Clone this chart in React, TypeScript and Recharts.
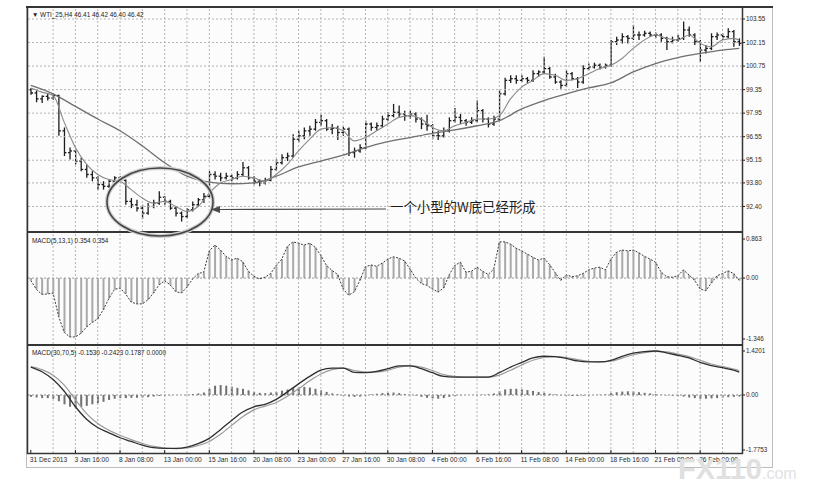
import { ComposedChart, Bar, Line, XAxis, YAxis, ReferenceLine } from 'recharts'

// WTI H4 – one entry per 8 hours (two H4 bars)
// [open, high, low, close]
const CANDLES: [number, number, number, number][] = [
  [99.35, 99.45, 99.05, 99.15], [99.15, 99.3, 98.6, 98.8], [98.8, 99.0, 98.55, 98.95], [98.95, 99.1, 98.7, 98.85],
  [98.85, 99.15, 98.75, 99.0], [99.0, 99.05, 96.6, 96.9], [96.9, 97.1, 95.4, 95.6], [95.6, 95.9, 95.2, 95.7],
  [95.7, 95.8, 94.9, 95.1], [95.1, 95.3, 94.5, 94.6], [94.6, 94.9, 94.1, 94.3], [94.3, 94.5, 93.9, 94.1],
  [94.1, 94.2, 93.4, 93.7], [93.7, 93.9, 93.4, 93.6], [93.6, 94.0, 93.5, 93.9], [93.9, 94.2, 93.8, 94.1],
  [94.1, 94.2, 93.8, 93.95], [93.95, 94.0, 92.5, 92.7], [92.7, 92.9, 92.3, 92.5], [92.5, 92.8, 92.1, 92.3],
  [92.3, 92.5, 91.65, 92.0], [92.0, 92.6, 91.9, 92.4], [92.4, 92.8, 92.3, 92.6], [92.6, 93.3, 92.5, 92.95],
  [92.95, 93.0, 92.5, 92.7], [92.7, 92.8, 92.2, 92.3], [92.3, 92.4, 91.8, 92.0], [92.0, 92.1, 91.5, 91.8],
  [91.8, 92.3, 91.7, 92.2], [92.2, 92.7, 92.1, 92.5], [92.5, 92.9, 92.4, 92.8], [92.8, 93.2, 92.6, 93.0],
  [93.0, 94.5, 92.9, 94.3], [94.3, 94.5, 94.0, 94.2], [94.2, 94.4, 93.9, 94.1], [94.1, 94.4, 94.0, 94.2],
  [94.2, 94.3, 93.9, 94.1], [94.1, 94.5, 94.0, 94.3], [94.3, 95.05, 94.2, 94.7], [94.7, 94.8, 94.0, 94.1],
  [94.1, 94.2, 93.7, 93.9], [93.9, 94.0, 93.6, 93.8], [93.8, 94.1, 93.7, 93.95], [93.95, 94.8, 93.9, 94.6],
  [94.6, 95.2, 94.5, 95.0], [95.0, 95.5, 94.9, 95.3], [95.3, 95.6, 95.1, 95.4], [95.4, 96.7, 95.3, 96.4],
  [96.4, 96.9, 96.2, 96.6], [96.6, 97.1, 96.4, 96.9], [96.9, 97.2, 96.6, 97.0], [97.0, 97.6, 96.9, 97.4],
  [97.4, 97.85, 97.2, 97.5], [97.5, 97.6, 96.9, 97.0], [97.0, 97.3, 96.7, 97.05], [97.05, 97.2, 96.35, 96.8],
  [96.8, 97.15, 96.6, 97.0], [97.0, 97.1, 95.4, 95.6], [95.6, 95.9, 95.3, 95.7], [95.7, 96.1, 95.6, 95.9],
  [95.9, 97.5, 95.8, 97.3], [97.3, 97.4, 96.9, 97.1], [97.1, 97.4, 96.9, 97.2], [97.2, 97.8, 97.1, 97.6],
  [97.6, 98.0, 97.5, 97.8], [97.8, 98.5, 97.7, 98.0], [98.0, 98.4, 97.7, 97.9], [97.9, 98.1, 97.5, 97.8],
  [97.8, 98.1, 97.6, 97.9], [97.9, 98.0, 97.4, 97.6], [97.6, 97.7, 97.0, 97.3], [97.3, 97.85, 96.9, 97.2],
  [97.2, 97.3, 96.4, 96.6], [96.6, 96.9, 96.35, 96.6], [96.6, 97.1, 96.5, 96.9], [96.9, 97.7, 96.8, 97.5],
  [97.5, 98.25, 97.4, 97.7], [97.7, 97.9, 97.3, 97.5], [97.5, 97.6, 97.2, 97.4], [97.4, 97.7, 97.3, 97.5],
  [97.5, 98.7, 97.4, 98.1], [98.1, 98.2, 97.4, 97.6], [97.6, 97.7, 97.1, 97.3], [97.3, 97.8, 97.2, 97.6],
  [97.6, 99.3, 97.5, 99.1], [99.1, 100.05, 99.0, 99.9], [99.9, 100.2, 99.75, 100.0], [100.0, 100.2, 99.7, 99.9],
  [99.9, 100.2, 99.8, 100.0], [100.0, 100.1, 99.75, 99.9], [99.9, 100.5, 99.8, 100.3], [100.3, 100.5, 100.1, 100.4],
  [100.4, 101.3, 100.3, 100.6], [100.6, 100.7, 100.0, 100.1], [100.1, 100.3, 99.7, 99.8], [99.8, 99.9, 99.4, 99.6],
  [99.6, 100.5, 99.5, 100.3], [100.3, 100.4, 99.9, 100.0], [100.0, 100.1, 99.45, 99.8], [99.8, 100.8, 99.7, 100.6],
  [100.6, 100.9, 100.5, 100.7], [100.7, 100.95, 100.6, 100.8], [100.8, 100.9, 100.55, 100.7], [100.7, 100.9, 100.6, 100.8],
  [100.8, 102.3, 100.7, 102.2], [102.2, 102.5, 102.0, 102.3], [102.3, 102.7, 102.1, 102.5], [102.5, 102.6, 102.1, 102.4],
  [102.4, 103.2, 102.3, 102.6], [102.6, 102.8, 102.3, 102.6], [102.6, 102.85, 102.5, 102.7], [102.7, 102.8, 102.5, 102.6],
  [102.6, 102.75, 102.4, 102.6], [102.6, 102.7, 102.2, 102.4], [102.4, 102.5, 101.7, 102.2], [102.2, 102.5, 102.1, 102.3],
  [102.3, 102.6, 102.2, 102.4], [102.4, 103.4, 102.3, 102.9], [102.9, 103.1, 102.5, 102.6], [102.6, 102.7, 102.0, 102.2],
  [102.2, 102.3, 101.0, 101.7], [101.7, 102.0, 101.5, 101.8], [101.8, 102.7, 101.7, 102.5], [102.5, 102.75, 102.3, 102.6],
  [102.6, 102.7, 102.3, 102.5], [102.5, 103.0, 102.4, 102.8], [102.8, 102.9, 101.9, 102.2], [102.2, 102.4, 101.95, 102.1],
]

// moving averages, [index, value] where read
const FAST_MA: [number, number][] = [
  [0, 99.45], [2, 99.2], [4, 99.0], [6, 97.4], [8, 95.9], [10, 94.9], [12, 94.3], [14, 94.0], [16, 93.9],
  [18, 93.4], [20, 92.9], [22, 92.6], [24, 92.7], [26, 92.4], [28, 92.1], [30, 92.4], [32, 93.2], [34, 93.8],
  [36, 94.0], [38, 94.2], [40, 94.1], [42, 93.9], [44, 94.3], [46, 94.9], [48, 95.7], [50, 96.4], [52, 97.0],
  [54, 97.1], [56, 96.9], [58, 96.3], [60, 96.5], [62, 96.9], [64, 97.3], [66, 97.7], [68, 97.8], [70, 97.6],
  [72, 97.1], [74, 96.9], [76, 97.2], [78, 97.4], [80, 97.6], [82, 97.6], [84, 97.8], [86, 98.8], [88, 99.5],
  [90, 99.9], [92, 100.3], [94, 100.2], [96, 99.9], [98, 100.0], [100, 100.3], [102, 100.6], [104, 100.8],
  [106, 101.2], [108, 101.8], [110, 102.3], [112, 102.6], [114, 102.4], [116, 102.3], [118, 102.6],
  [120, 102.1], [122, 101.9], [124, 102.3], [126, 102.4], [127, 102.3],
]
const SLOW_MA: [number, number][] = [
  [0, 99.6], [4, 99.1], [8, 98.35], [12, 97.6], [16, 96.9], [20, 96.0], [24, 95.0], [28, 94.2], [32, 93.85],
  [36, 93.75], [40, 93.8], [44, 94.2], [48, 94.75], [52, 95.1], [56, 95.45], [60, 95.9], [64, 96.25],
  [68, 96.5], [72, 96.75], [76, 96.95], [80, 97.2], [84, 97.5], [88, 98.2], [92, 98.7], [96, 99.1],
  [100, 99.45], [104, 99.75], [108, 100.4], [112, 100.9], [116, 101.25], [120, 101.5], [124, 101.7], [127, 101.8],
]

// MACD(5,13,1) histogram, one per entry
const MACD_FAST = [
  -0.05, -0.25, -0.36, -0.35, -0.33, -0.85, -1.2, -1.3,
  -1.3, -1.22, -1.08, -0.98, -0.9, -0.7, -0.45, -0.25,
  -0.22, -0.35, -0.53, -0.57, -0.57, -0.48, -0.33, -0.15,
  -0.06, -0.15, -0.3, -0.33, -0.2, -0.02, 0.1, 0.13,
  0.6, 0.73, 0.62, 0.48, 0.4, 0.44, 0.36, 0.15,
  0.04, -0.02, 0.02, 0.1, 0.28, 0.42, 0.7, 0.8,
  0.77, 0.73, 0.77, 0.68, 0.5, 0.28, 0.17, 0.08,
  -0.24, -0.38, -0.3, -0.05, 0.25, 0.29, 0.26, 0.33,
  0.42, 0.47, 0.44, 0.38, 0.2, 0.0, -0.12, -0.16,
  -0.24, -0.31, -0.22, 0.07, 0.28, 0.35, 0.13, 0.15,
  0.24, 0.15, 0.08, 0.2, 0.8, 0.8, 0.75, 0.66,
  0.6, 0.53, 0.46, 0.4, 0.44, 0.3, 0.12, -0.05,
  0.07, 0.03, 0.05, 0.1, 0.18, 0.22, 0.24, 0.18,
  0.42, 0.57, 0.62, 0.6, 0.62, 0.56, 0.48, 0.42,
  0.35, 0.13, 0.03, 0.02, 0.05, 0.18, 0.07, -0.05,
  -0.24, -0.28, -0.11, 0.05, 0.1, 0.16, 0.1, -0.05,
]

// MACD(30,70,5): histogram per entry, main and signal where read
const MACD_SLOW_HIST = [
  -0.06, -0.08, -0.1, -0.1, -0.12, -0.2, -0.3, -0.38,
  -0.4, -0.38, -0.35, -0.3, -0.26, -0.22, -0.16, -0.12,
  -0.1, -0.1, -0.09, -0.09, -0.08, -0.07, -0.05, -0.03,
  -0.02, -0.01, 0, 0, 0.01, 0.03, 0.05, 0.08,
  0.2, 0.3, 0.32, 0.3, 0.27, 0.23, 0.2, 0.15,
  0.1, 0.07, 0.06, 0.08, 0.1, 0.14, 0.18, 0.22,
  0.25, 0.26, 0.24, 0.2, 0.15, 0.1, 0.05, 0.02,
  -0.02, -0.05, -0.06, -0.05, -0.02, 0.02, 0.04, 0.06,
  0.07, 0.08, 0.06, 0.03, 0.01, -0.02, -0.06, -0.09,
  -0.11, -0.12, -0.1, -0.06, -0.03, -0.01, 0, 0,
  0, 0.01, 0.02, 0.05, 0.12, 0.18, 0.2, 0.2,
  0.18, 0.16, 0.13, 0.1, 0.07, 0.04, 0.02, -0.01,
  -0.02, -0.03, -0.03, -0.02, -0.01, 0, 0.01, 0.02,
  0.06, 0.09, 0.11, 0.12, 0.11, 0.09, 0.07, 0.05,
  0.03, 0.01, -0.01, -0.02, -0.03, -0.05, -0.08, -0.1,
  -0.12, -0.12, -0.11, -0.1, -0.08, -0.07, -0.06, -0.05,
]
const MACD_SLOW_MAIN: [number, number][] = [
  [0, 0.9], [2, 0.75], [4, 0.5], [6, 0.12], [8, -0.38], [10, -0.78], [12, -1.05], [14, -1.22], [16, -1.38],
  [18, -1.5], [20, -1.62], [22, -1.7], [24, -1.72], [26, -1.72], [28, -1.68], [30, -1.57], [32, -1.4],
  [34, -1.12], [36, -0.82], [38, -0.55], [40, -0.38], [42, -0.3], [44, -0.14], [46, 0.1], [48, 0.36],
  [50, 0.6], [52, 0.8], [54, 0.87], [56, 0.87], [58, 0.73], [60, 0.72], [62, 0.76], [64, 0.85], [66, 0.94],
  [68, 0.94], [70, 0.85], [72, 0.72], [74, 0.6], [76, 0.58], [78, 0.58], [80, 0.58], [82, 0.58], [84, 0.72],
  [86, 0.9], [88, 1.05], [90, 1.2], [92, 1.25], [94, 1.24], [96, 1.18], [98, 1.1], [100, 1.07], [102, 1.07],
  [104, 1.12], [106, 1.25], [108, 1.35], [110, 1.4], [112, 1.42], [114, 1.36], [116, 1.28], [118, 1.2],
  [120, 1.05], [122, 0.95], [124, 0.88], [126, 0.8], [127, 0.74],
]
const MACD_SLOW_SIGNAL: [number, number][] = [
  [0, 0.92], [2, 0.82], [4, 0.64], [6, 0.32], [8, -0.15], [10, -0.6], [12, -0.92], [14, -1.14], [16, -1.3],
  [18, -1.44], [20, -1.56], [22, -1.66], [24, -1.71], [26, -1.73], [28, -1.71], [30, -1.63], [32, -1.5],
  [34, -1.27], [36, -0.98], [38, -0.7], [40, -0.48], [42, -0.36], [44, -0.24], [46, -0.04], [48, 0.2],
  [50, 0.46], [52, 0.68], [54, 0.82], [56, 0.87], [58, 0.79], [60, 0.74], [62, 0.74], [64, 0.8], [66, 0.9],
  [68, 0.94], [70, 0.9], [72, 0.79], [74, 0.66], [76, 0.6], [78, 0.58], [80, 0.58], [82, 0.58], [84, 0.64],
  [86, 0.8], [88, 0.97], [90, 1.12], [92, 1.21], [94, 1.24], [96, 1.21], [98, 1.14], [100, 1.09], [102, 1.07],
  [104, 1.09], [106, 1.19], [108, 1.3], [110, 1.37], [112, 1.41], [114, 1.39], [116, 1.32], [118, 1.24],
  [120, 1.12], [122, 1.0], [124, 0.92], [126, 0.84], [127, 0.79],
]

const X_LABELS = [
  '31 Dec 2013', '3 Jan 16:00', '8 Jan 08:00', '13 Jan 00:00', '15 Jan 16:00', '20 Jan 08:00',
  '23 Jan 00:00', '27 Jan 16:00', '30 Jan 08:00', '4 Feb 00:00', '6 Feb 16:00', '11 Feb 08:00',
  '14 Feb 00:00', '18 Feb 16:00', '21 Feb 08:00', '26 Feb 00:00',
]
const PRICE_TICKS = [91.0, 92.4, 93.8, 95.15, 96.55, 97.95, 99.35, 100.75, 102.15, 103.55]
const MACD_FAST_TICKS = [-1.346, 0, 0.863]
const MACD_SLOW_TICKS = [-1.7753, 0, 1.4201]

const INK = '#1c1c1c'
const GRID = '#b4b4b4'
const FONT = '"Liberation Sans", Arial, sans-serif'
const PLOT_W = 714
const AXIS_W = 31

const lookup = (pairs: [number, number][]) => new Map(pairs)
const fastMap = lookup(FAST_MA)
const slowMap = lookup(SLOW_MA)
const mainMap = lookup(MACD_SLOW_MAIN)
const sigMap = lookup(MACD_SLOW_SIGNAL)

const rows = CANDLES.map(([o, h, l, c], i) => ({
  i, o, h, l, c,
  fast: fastMap.get(i) ?? null,
  slow: slowMap.get(i) ?? null,
  m1: MACD_FAST[i],
  osma: MACD_SLOW_HIST[i],
  main: mainMap.get(i) ?? null,
  signal: sigMap.get(i) ?? null,
}))

const GRID_X = rows.filter((r) => r.i % 4 === 0 && r.i > 0).map((r) => r.i)

function OhlcBar(props: any) {
  const { x, y, width, height, payload } = props
  if (!payload || height == null) return null
  const top = Math.min(y, y + height)
  const span = Math.abs(height)
  const range = payload.h - payload.l || 1
  const at = (v: number) => top + ((payload.h - v) / range) * span
  const cx = x + width / 2
  return (
    <g stroke={INK} strokeWidth={1.3}>
      <line x1={cx} x2={cx} y1={top} y2={top + span} />
      <line x1={cx - 2} x2={cx} y1={at(payload.o)} y2={at(payload.o)} />
      <line x1={cx} x2={cx + 2} y1={at(payload.c)} y2={at(payload.c)} />
    </g>
  )
}

function TimeTick(props: any) {
  const { x, y, payload } = props
  const i = payload.value as number
  if (i % 8 !== 0) return null
  return (
    <g>
      <line x1={x} x2={x} y1={y - 3} y2={y} stroke={INK} />
      <text x={x - 1} y={y + 9} fontSize={6.6} fontFamily={FONT} fill="#2a2a2a" textAnchor="start">
        {X_LABELS[i / 8]}
      </text>
    </g>
  )
}

const yTick = { fontSize: 6.3, fill: '#2a2a2a', fontFamily: FONT }

function gridLines() {
  return GRID_X.map((i) => (
    <ReferenceLine key={'gx' + i} x={i} stroke={GRID} strokeDasharray="2 2" />
  ))
}

export default function App() {
  return (
    <div style={{ position: 'absolute', left: 0, top: 0, width: 814, height: 491, background: '#ffffff', overflow: 'hidden' }}>
      <div style={{ position: 'absolute', left: 27, top: 7, width: 746, height: 460, background: '#fcfcfc' }} />

      {/* price panel */}
      <div style={{ position: 'absolute', left: 28, top: 7 }}>
        <ComposedChart width={PLOT_W + AXIS_W} height={224} data={rows} margin={{ top: 0, right: 0, bottom: 0, left: 0 }}>
          <XAxis dataKey="i" hide />
          <YAxis
            orientation="right"
            width={AXIS_W}
            domain={[90.94, 104.264]}
            ticks={PRICE_TICKS}
            allowDataOverflow
            axisLine={false}
            tickSize={3}
            tickMargin={1}
            tickLine={{ stroke: INK }}
            tick={yTick}
            tickFormatter={(v: number) => v.toFixed(2)}
          />
          {gridLines()}
          {PRICE_TICKS.slice(1).map((v) => (
            <ReferenceLine key={'gy' + v} y={v} stroke={GRID} strokeDasharray="2 2" />
          ))}
          <Line dataKey="slow" type="monotone" stroke="#6f6f6f" strokeWidth={1.3} dot={false} connectNulls isAnimationActive={false} />
          <Line dataKey="fast" type="monotone" stroke="#8a8a8a" strokeWidth={1.1} dot={false} connectNulls isAnimationActive={false} />
          <Bar dataKey={(d: any) => [d.l, d.h]} barSize={4} shape={OhlcBar} isAnimationActive={false} />
        </ComposedChart>
      </div>

      {/* MACD(5,13,1) */}
      <div style={{ position: 'absolute', left: 28, top: 233 }}>
        <ComposedChart width={PLOT_W + AXIS_W} height={111} data={rows} margin={{ top: 0, right: 0, bottom: 0, left: 0 }}>
          <XAxis dataKey="i" hide />
          <YAxis
            orientation="right"
            width={AXIS_W}
            domain={[-1.456, 0.996]}
            ticks={MACD_FAST_TICKS}
            allowDataOverflow
            axisLine={false}
            tickSize={3}
            tickMargin={1}
            tickLine={{ stroke: INK }}
            tick={yTick}
            tickFormatter={(v: number) => (v === 0 ? '0.00' : String(v))}
          />
          {gridLines()}
          <ReferenceLine y={0} stroke="#9a9a9a" strokeDasharray="2 2" />
          <Bar dataKey="m1" barSize={2} fill="#a9a9a9" isAnimationActive={false} />
          <Line dataKey="m1" type="linear" stroke="#3a3a3a" strokeWidth={1} strokeDasharray="2 1.5" dot={false} isAnimationActive={false} />
        </ComposedChart>
      </div>

      {/* MACD(30,70,5) */}
      <div style={{ position: 'absolute', left: 28, top: 346 }}>
        <ComposedChart width={PLOT_W + AXIS_W} height={121} data={rows} margin={{ top: 0, right: 0, bottom: 0, left: 0 }}>
          <XAxis
            dataKey="i"
            height={14}
            interval={0}
            axisLine={false}
            tickLine={false}
            tickSize={0}
            tickMargin={0}
            tick={<TimeTick />}
          />
          <YAxis
            orientation="right"
            width={AXIS_W}
            domain={[-1.8721, 1.5815]}
            ticks={MACD_SLOW_TICKS}
            allowDataOverflow
            axisLine={false}
            tickSize={3}
            tickMargin={1}
            tickLine={{ stroke: INK }}
            tick={yTick}
            tickFormatter={(v: number) => (v === 0 ? '0.00' : v.toFixed(4))}
          />
          {gridLines()}
          <ReferenceLine y={0} stroke="#8a8a8a" strokeDasharray="2 2" />
          <Bar dataKey="osma" barSize={2} fill="#707070" isAnimationActive={false} />
          <Line dataKey="signal" type="monotone" stroke="#9a9a9a" strokeWidth={1.2} dot={false} connectNulls isAnimationActive={false} />
          <Line dataKey="main" type="monotone" stroke="#2e2e2e" strokeWidth={1.3} dot={false} connectNulls isAnimationActive={false} />
        </ComposedChart>
      </div>

      {/* frame, labels and annotation */}
      <svg width={814} height={491} style={{ position: 'absolute', left: 0, top: 0, pointerEvents: 'none' }}>
        <rect x={26.5} y={6.5} width={746} height={461} fill="none" stroke="#bdbdbd" />
        <g stroke="#353535">
          <line x1={26} x2={773} y1={7} y2={7} strokeWidth={2} />
          <line x1={27.5} x2={27.5} y1={7} y2={454} strokeWidth={1.5} />
          <line x1={742.5} x2={742.5} y1={7} y2={454} strokeWidth={1.5} />
          <line x1={27} x2={743} y1={232} y2={232} strokeWidth={2} />
          <line x1={27} x2={743} y1={345} y2={345} strokeWidth={2} />
          <line x1={27} x2={743} y1={453.5} y2={453.5} strokeWidth={1.5} />
        </g>
        <g fontFamily={FONT} fontSize={6.4} fill="#222">
          <text x={32} y={17}>▼ WTI_25,H4  46.41 46.42 46.40 46.42</text>
          <text x={32} y={243}>MACD(5,13,1) 0.354 0.354</text>
          <text x={32} y={355}>MACD(30,70,5) -0.1530 -0.2423 0.1787 0.0000</text>
        </g>
        <ellipse cx={160} cy={202} rx={53} ry={34} fill="none" stroke="#cfcfcf" strokeWidth={4} />
        <ellipse cx={160} cy={202} rx={53} ry={34} fill="none" stroke="#454545" strokeWidth={1.6} />
        <line x1={218} x2={386} y1={209.5} y2={209} stroke="#4a4a4a" strokeWidth={1.2} />
        <polygon points="211,209.5 220,206 220,213" fill="#4a4a4a" />
        <text x={390} y={212} fontSize={13.4} fontFamily='"Noto Sans CJK SC", sans-serif' fill="#1e1e1e">
          一个小型的W底已经形成
        </text>
        <text x={678} y={479} fontSize={29} fontWeight="bold" fontFamily={FONT} fill="#e0e0e0">FX110</text>
        <text x={762} y={479} fontSize={16} fontFamily={FONT} fill="#e2e2e2">.com</text>
      </svg>
    </div>
  )
}
